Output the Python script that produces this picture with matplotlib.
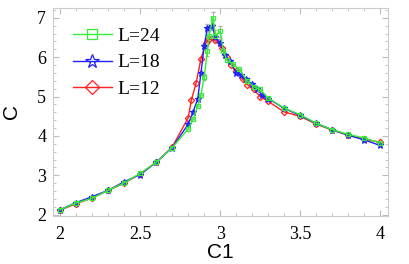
import matplotlib
matplotlib.use("Agg")
import matplotlib.pyplot as plt
from matplotlib.ticker import MultipleLocator

# --------------------------------------
# data
# --------------------------------------
x24 = [2.0, 2.1, 2.2, 2.3, 2.4, 2.5, 2.6, 2.7, 2.8, 2.83, 2.86, 2.88, 2.9, 2.92, 2.93,
       2.955, 2.97, 3.0, 3.02, 3.04, 3.08, 3.12, 3.17, 3.21, 3.25, 3.3, 3.4, 3.5,
       3.6, 3.7, 3.8, 3.9, 4.0]
y24 = [2.13, 2.30, 2.42, 2.62, 2.81, 3.05, 3.33, 3.70, 4.18, 4.42, 4.77, 5.05, 5.5, 6.16, 6.54,
       7.0, 6.54, 6.66, 6.16, 5.94, 5.82, 5.69, 5.39, 5.25, 5.18, 4.96, 4.71, 4.54,
       4.32, 4.16, 4.04, 3.95, 3.82]
err24 = [0, 0, 0, 0, 0, 0, 0, 0, 0, 0, 0, 0, 0.08, 0.12, 0.15,
         0.15, 0.15, 0.14, 0.1, 0.06, 0, 0, 0, 0, 0, 0, 0, 0,
         0, 0, 0, 0, 0]

x18 = [2.0, 2.1, 2.2, 2.3, 2.4, 2.5, 2.6, 2.7, 2.8, 2.83, 2.86, 2.88, 2.9, 2.92, 2.95,
       2.97, 3.0, 3.03, 3.06, 3.1, 3.13, 3.16, 3.2, 3.23, 3.26, 3.3, 3.4, 3.5, 3.6,
       3.7, 3.8, 3.9, 4.0]
y18 = [2.13, 2.31, 2.46, 2.62, 2.84, 3.02, 3.33, 3.70, 4.30, 4.6, 4.95, 5.6, 6.28, 6.75, 6.80,
       6.5, 6.37, 6.05, 5.90, 5.6, 5.56, 5.45, 5.31, 5.2, 5.05, 4.95, 4.70, 4.52, 4.32,
       4.16, 4.02, 3.90, 3.76]
err18 = [0, 0, 0, 0, 0, 0, 0, 0, 0, 0, 0, 0, 0.06, 0.1, 0.12,
         0.1, 0.08, 0.05, 0, 0, 0, 0, 0, 0, 0, 0, 0, 0, 0,
         0, 0, 0, 0]

x12 = [2.0, 2.1, 2.2, 2.3, 2.4, 2.5, 2.6, 2.7, 2.8, 2.82, 2.85, 2.88, 2.91, 2.93, 2.97,
       3.01, 3.04, 3.07, 3.1, 3.14, 3.17, 3.21, 3.25, 3.3, 3.4, 3.5, 3.6, 3.7, 3.8,
       3.9, 4.0]
y12 = [2.12, 2.28, 2.43, 2.62, 2.80, 3.04, 3.33, 3.72, 4.46, 4.91, 5.35, 5.96, 6.35, 6.45, 6.44,
       6.24, 6.0, 5.8, 5.65, 5.45, 5.3, 5.18, 5.0, 4.88, 4.61, 4.5, 4.3, 4.15, 4.02,
       3.92, 3.84]

# --------------------------------------
# plot
# --------------------------------------
fig = plt.figure(figsize=(4.09, 2.64), dpi=100)
ax = fig.add_axes([0.130, 0.182, 0.819, 0.788])

# grey error bars underneath
ax.errorbar(x18, y18, yerr=err18, fmt='none', ecolor='#b0b0b0', elinewidth=0.7, capsize=1.5, zorder=1)
ax.errorbar(x24, y24, yerr=err24, fmt='none', ecolor='#b0b0b0', elinewidth=0.7, capsize=1.5, zorder=1)

l12, = ax.plot(x12, y12, color='#ff2020', lw=1.0, marker='D', ms=3.2, mfc='none', mew=0.9, zorder=2)
l18, = ax.plot(x18, y18, color='#2020ff', lw=1.0, marker='*', ms=4.5, mfc='none', mew=0.9, zorder=3)
l24, = ax.plot(x24, y24, color='#33ee33', lw=1.0, marker='s', ms=3.2, mfc='none', mew=0.9, zorder=4)

ax.set_xlim(1.956, 4.05)
ax.set_ylim(1.97, 7.25)
ax.xaxis.set_major_locator(MultipleLocator(0.5))
ax.xaxis.set_minor_locator(MultipleLocator(0.1))
ax.yaxis.set_major_locator(MultipleLocator(1))
ax.yaxis.set_minor_locator(MultipleLocator(0.2))
ax.set_xticks([2, 2.5, 3, 3.5, 4])
ax.set_xticklabels(['2', '2.5', '3', '3.5', '4'])

for s in ax.spines.values():
    s.set_color('#cccccc')
ax.tick_params(which='both', direction='in', top=True, right=True, color='#bbbbbb')
ax.tick_params(which='major', length=4, labelsize=13, labelfontfamily='Liberation Serif')
ax.tick_params(axis='x', which='major', pad=7)
ax.tick_params(axis='y', which='major', pad=5)
ax.tick_params(which='minor', length=2)

ax.set_xlabel('C1', fontfamily='Liberation Sans', fontsize=15, labelpad=0)
ax.set_ylabel('C', fontfamily='Liberation Sans', fontsize=15, labelpad=12)

ax.legend([l24, l18, l12], ['L=24', 'L=18', 'L=12'], loc='upper left', frameon=False,
          handlelength=2.0, handletextpad=0.3, labelspacing=0.45, borderaxespad=0.4,
          borderpad=0.6, prop={'family': 'Liberation Serif', 'size': 14}, markerscale=2.2)

fig.savefig('out.png', dpi=100)
